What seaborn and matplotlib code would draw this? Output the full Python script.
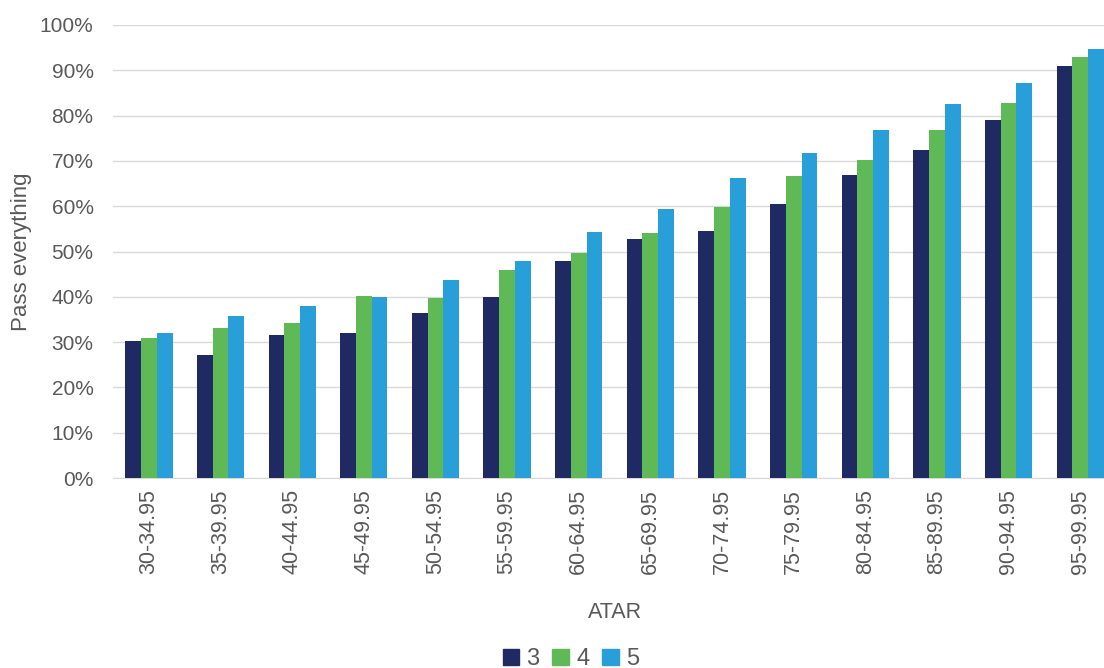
import numpy as np
import pandas as pd
import matplotlib
matplotlib.use("Agg")
import matplotlib.pyplot as plt
from matplotlib.ticker import PercentFormatter
from matplotlib.patches import Patch
import seaborn as sns

atar_bands = ["30-34.95", "35-39.95", "40-44.95", "45-49.95", "50-54.95",
              "55-59.95", "60-64.95", "65-69.95", "70-74.95", "75-79.95",
              "80-84.95", "85-89.95", "90-94.95", "95-99.95"]
series_names = ["3", "4", "5"]
pass_3 = [30.2, 27.2, 31.6, 32.0, 36.4, 39.9, 47.9, 52.8, 54.5, 60.5, 66.9, 72.4, 79.0, 90.9]
pass_4 = [30.9, 33.1, 34.2, 40.2, 39.8, 45.9, 49.7, 54.1, 59.8, 66.7, 70.2, 76.8, 82.7, 92.9]
pass_5 = [32.0, 35.8, 38.0, 39.9, 43.7, 47.9, 54.3, 59.4, 66.2, 71.7, 76.8, 82.6, 87.2, 94.7]
colors = ["#1F2A63", "#5FB957", "#299FDA"]

df = pd.DataFrame({
    "ATAR": atar_bands * 3,
    "series": np.repeat(series_names, len(atar_bands)),
    "value": np.array(pass_3 + pass_4 + pass_5) / 100,
})

sns.set_style("white")
plt.rcParams["font.family"] = ["Liberation Sans", "DejaVu Sans"]
grey = "#595959"

fig = plt.figure(figsize=(11.04, 6.68), dpi=100)
ax = fig.add_axes([0.1024, 0.2844, 0.9085, 0.6782])

sns.barplot(data=df, x="ATAR", y="value", hue="series", palette=colors,
            width=0.66, saturation=1, linewidth=0, ax=ax, legend=False, zorder=3)

ax.set_ylim(0, 1)
ax.set_xlim(-0.5, len(atar_bands) - 0.5)
ax.yaxis.set_major_locator(plt.MultipleLocator(0.1))
ax.yaxis.set_major_formatter(PercentFormatter(1.0, decimals=0))
ax.grid(axis="y", color="#D9D9D9", lw=1, zorder=0)
ax.set_axisbelow(True)
for s in ["top", "right", "left"]:
    ax.spines[s].set_visible(False)
ax.spines["bottom"].set_color("#D9D9D9")
ax.tick_params(axis="y", length=0, labelsize=15, colors=grey, pad=14)
ax.tick_params(axis="x", length=0, labelsize=15.5, colors=grey, pad=8, rotation=90)
ax.set_xlabel("ATAR", fontsize=15.5, color=grey, labelpad=20)
ax.set_ylabel("Pass everything", fontsize=16, color=grey, labelpad=6)

handles = [Patch(color=c, label=n) for c, n in zip(colors, series_names)]
fig.legend(handles=handles, loc="lower center", bbox_to_anchor=(0.517, -0.035),
           ncol=3, frameon=False, fontsize=17, handlelength=0.7, handleheight=0.7,
           handletextpad=0.3, columnspacing=0.55, labelcolor=grey)

fig.savefig("out.png", dpi=100)
